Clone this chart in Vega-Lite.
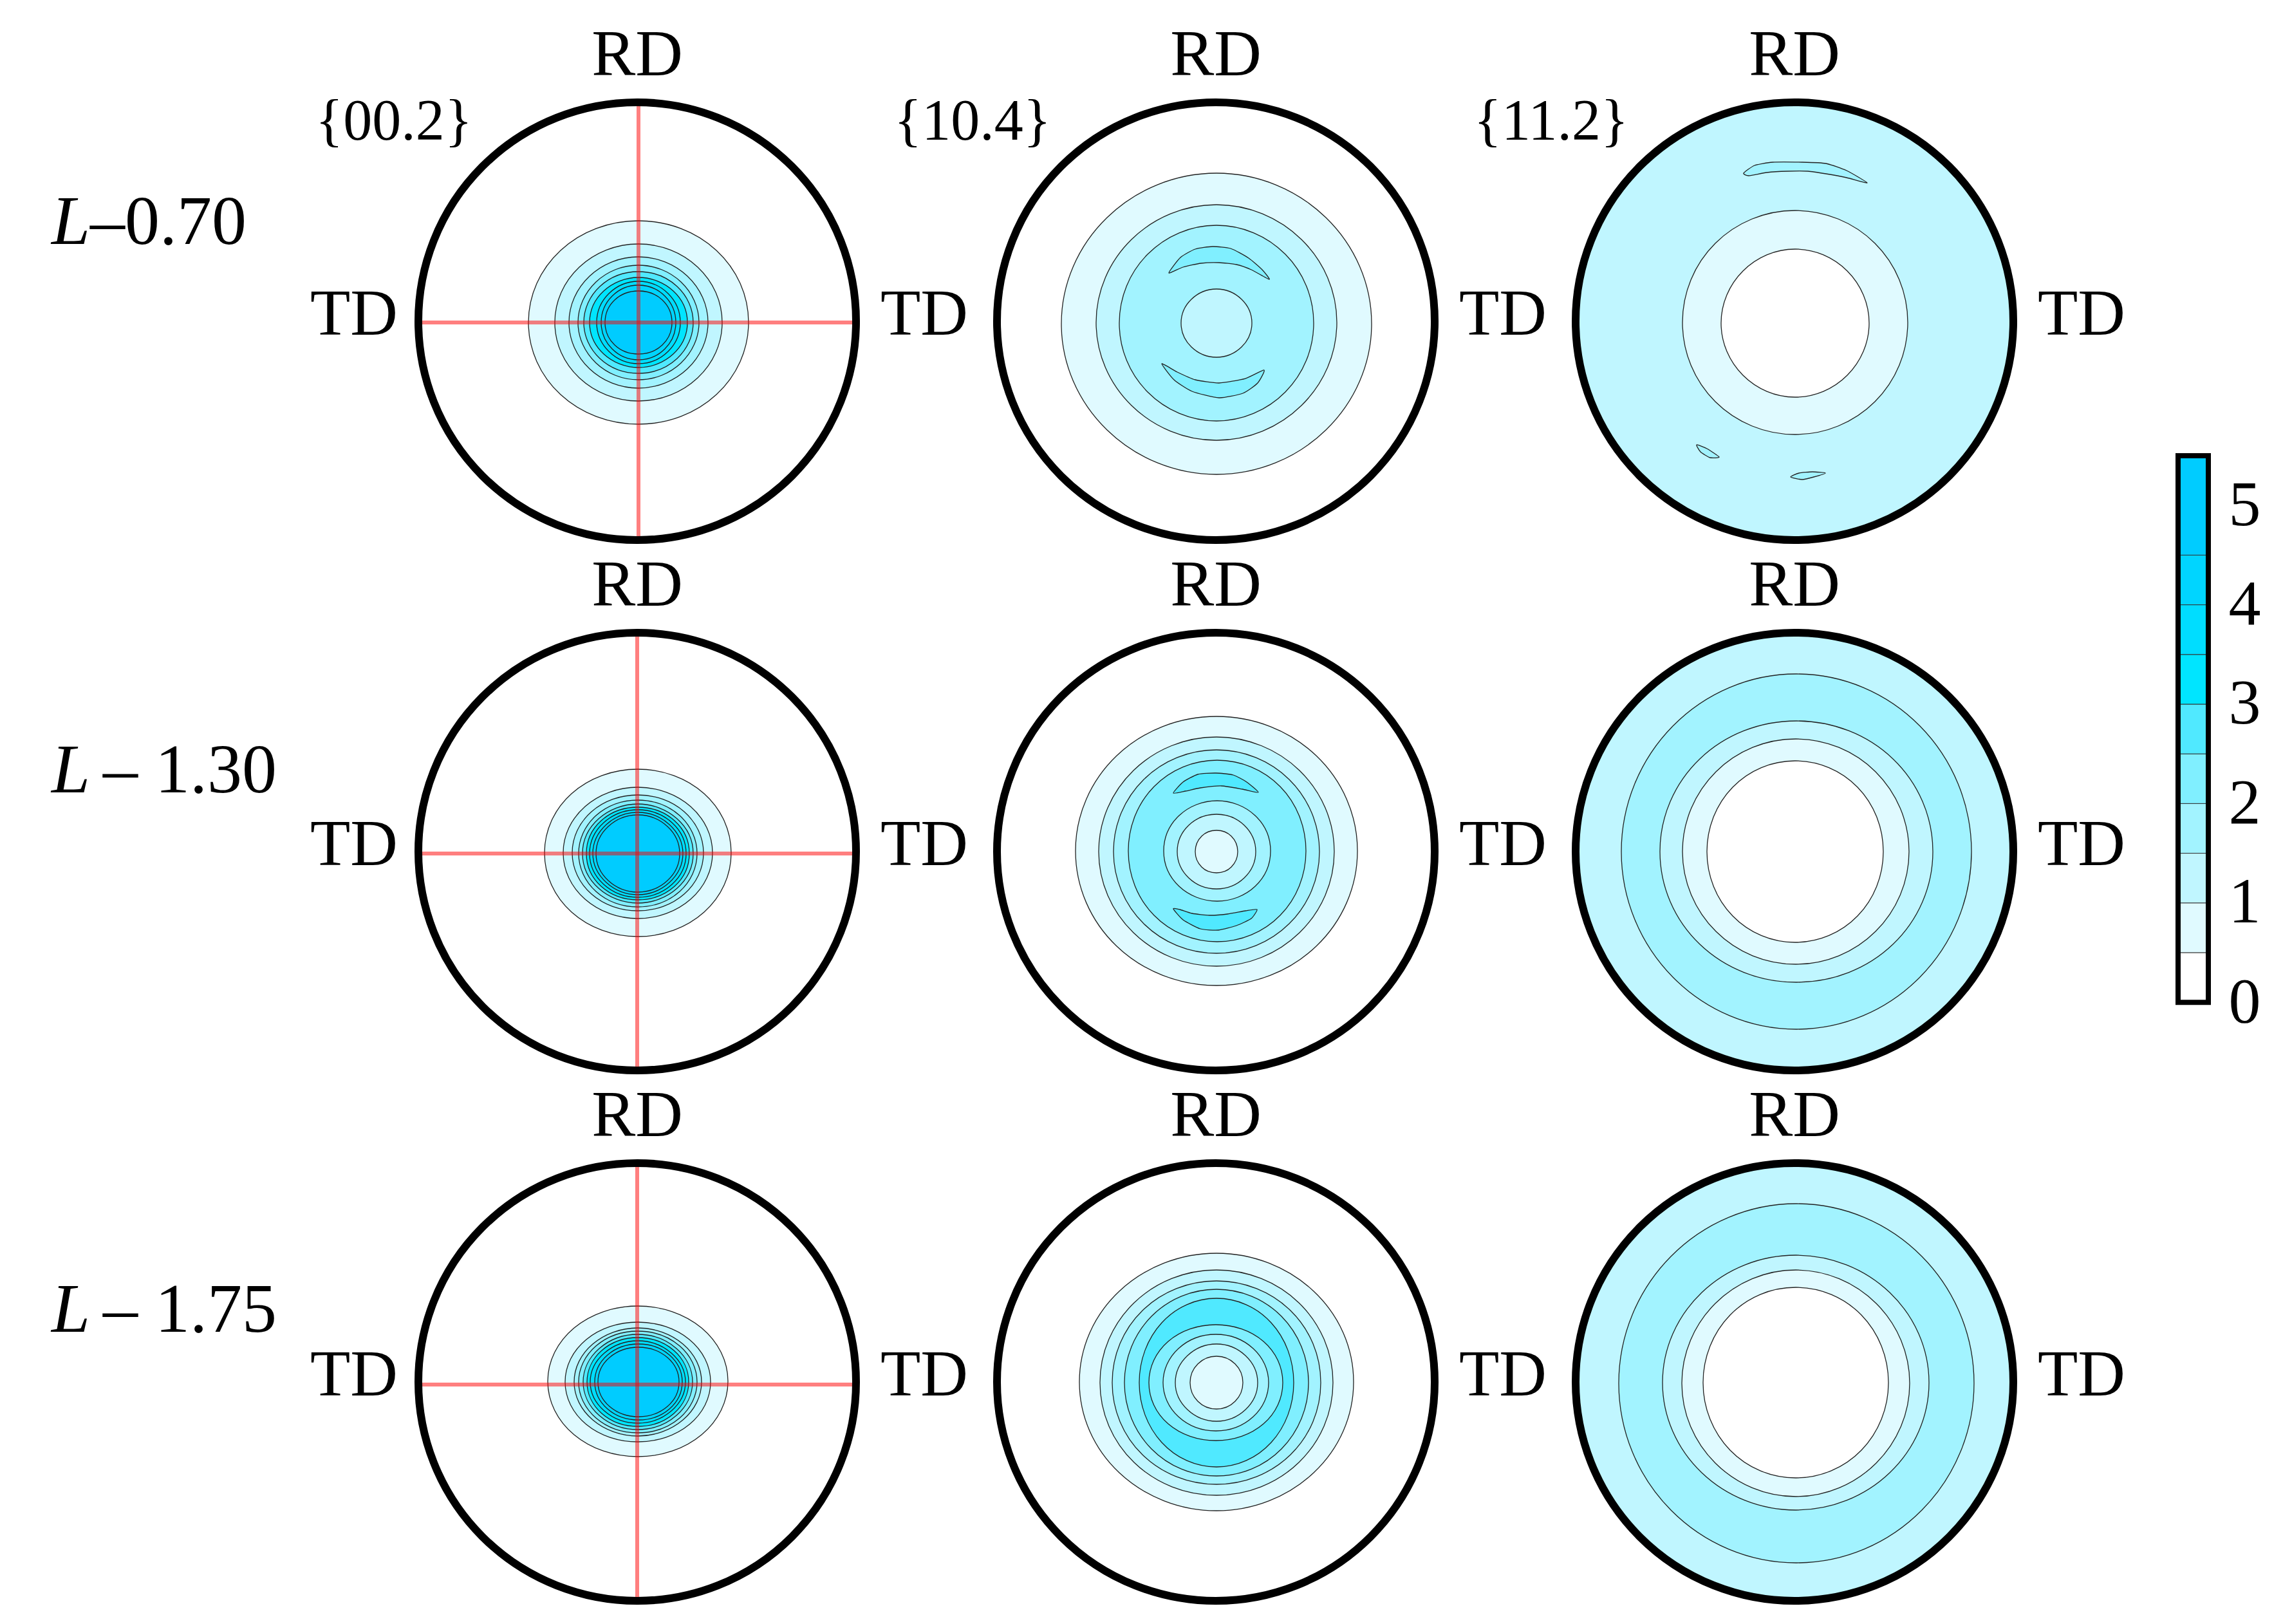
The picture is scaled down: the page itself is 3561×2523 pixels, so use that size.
{"$schema":"https://vega.github.io/schema/vega-lite/v6.json","padding":{"left":80,"top":34,"right":0,"bottom":0},"background":"white","config":{"view":{"stroke":null},"font":"Liberation Serif"},"hconcat":[{"data":{"values":[
{"k":"f","r":"L-0.70","h":"00.2","hkl":"{00.2}","n":"–0.70","ly":152,"nx":-850,"cx":2,"cy":-2},
{"k":"f","r":"L-0.70","h":"10.4","hkl":"{10.4}"},
{"k":"f","r":"L-0.70","h":"11.2","hkl":"{11.2}"},
{"k":"f","r":"L-1.30","h":"00.2","n":"– 1.30","ly":124,"nx":-830,"cx":0,"cy":-3},
{"k":"f","r":"L-1.30","h":"10.4"},
{"k":"f","r":"L-1.30","h":"11.2"},
{"k":"f","r":"L-1.75","h":"00.2","n":"– 1.75","ly":110,"nx":-830,"cx":0,"cy":-4},
{"k":"f","r":"L-1.75","h":"10.4"},
{"k":"f","r":"L-1.75","h":"11.2"},
{"k":"e","r":"L-0.70","h":"00.2","c":1,"lev":1,"xs":[173,123,2,-119,-169,-119,2,123],"ys":[-2,110,156,110,-2,-114,-160,-114]},
{"k":"e","r":"L-0.70","h":"00.2","c":2,"lev":2,"xs":[132,94,2,-90,-128,-90,2,94],"ys":[-2,84,120,84,-2,-88,-124,-88]},
{"k":"e","r":"L-0.70","h":"00.2","c":3,"lev":3,"xs":[110,78,2,-74,-106,-74,2,78],"ys":[-2,70,100,70,-2,-74,-104,-74]},
{"k":"e","r":"L-0.70","h":"00.2","c":4,"lev":4,"xs":[96,68,2,-64,-92,-64,2,68],"ys":[-2,61,87,61,-2,-65,-91,-65]},
{"k":"e","r":"L-0.70","h":"00.2","c":5,"lev":5,"xs":[87,62,2,-58,-83,-58,2,62],"ys":[-2,54,77,54,-2,-58,-81,-58]},
{"k":"e","r":"L-0.70","h":"00.2","c":6,"lev":6,"xs":[78,56,2,-52,-74,-52,2,56],"ys":[-2,47,68,47,-2,-51,-72,-51]},
{"k":"e","r":"L-0.70","h":"00.2","c":7,"lev":7,"xs":[67,48,2,-44,-63,-44,2,48],"ys":[-2,43,62,43,-2,-47,-66,-47]},
{"k":"e","r":"L-0.70","h":"00.2","c":8,"lev":8,"xs":[60,43,2,-39,-56,-39,2,43],"ys":[-2,39,56,39,-2,-43,-60,-43]},
{"k":"e","r":"L-0.70","h":"00.2","c":9,"lev":9,"xs":[54,39,2,-35,-50,-35,2,39],"ys":[-2,33,47,33,-2,-37,-51,-37]},
{"k":"e","r":"L-0.70","h":"10.4","c":1,"lev":1,"xs":[242,171,1,-169,-240,-169,1,171],"ys":[-4,161,230,161,-4,-169,-238,-169]},
{"k":"e","r":"L-0.70","h":"10.4","c":2,"lev":2,"xs":[188,133,1,-131,-186,-131,1,133],"ys":[-2,127,181,127,-2,-131,-185,-131]},
{"k":"e","r":"L-0.70","h":"10.4","c":3,"lev":3,"xs":[152,108,1,-106,-150,-106,1,108],"ys":[-3,104,149,104,-3,-110,-155,-110]},
{"k":"e","r":"L-0.70","h":"10.4","c":4,"lev":2,"xs":[56,40,1,-38,-54,-38,1,40],"ys":[-3,34,50,34,-3,-40,-56,-40]},
{"k":"e","r":"L-0.70","h":"11.2","c":1,"lev":2,"xs":[340,240,0,-240,-340,-240,0,240],"ys":[0,240,340,240,0,-240,-340,-240]},
{"k":"e","r":"L-0.70","h":"11.2","c":2,"lev":1,"xs":[176,125,1,-123,-174,-123,1,125],"ys":[-2,121,172,121,-2,-125,-176,-125]},
{"k":"e","r":"L-0.70","h":"11.2","c":3,"lev":0,"xs":[116,82,1,-80,-114,-80,1,82],"ys":[-3,78,112,78,-3,-84,-118,-84]},
{"k":"e","r":"L-1.30","h":"00.2","c":1,"lev":1,"xs":[146,104,1,-102,-144,-102,1,104],"ys":[-2,90,128,90,-2,-94,-132,-94]},
{"k":"e","r":"L-1.30","h":"00.2","c":2,"lev":2,"xs":[117,83,1,-81,-115,-81,1,83],"ys":[-2,70,100,70,-2,-74,-104,-74]},
{"k":"e","r":"L-1.30","h":"00.2","c":3,"lev":3,"xs":[103,73,1,-71,-101,-71,1,73],"ys":[-2,62,88,62,-2,-66,-92,-66]},
{"k":"e","r":"L-1.30","h":"00.2","c":4,"lev":4,"xs":[93,66,1,-64,-91,-64,1,66],"ys":[-3,56,80,56,-3,-62,-86,-62]},
{"k":"e","r":"L-1.30","h":"00.2","c":5,"lev":5,"xs":[87,62,1,-60,-85,-60,1,62],"ys":[-3,51,74,51,-3,-57,-80,-57]},
{"k":"e","r":"L-1.30","h":"00.2","c":6,"lev":6,"xs":[81,58,1,-56,-79,-56,1,58],"ys":[-3,48,69,48,-3,-54,-75,-54]},
{"k":"e","r":"L-1.30","h":"00.2","c":7,"lev":7,"xs":[76,54,1,-52,-74,-52,1,54],"ys":[-3,45,65,45,-3,-51,-71,-51]},
{"k":"e","r":"L-1.30","h":"00.2","c":8,"lev":8,"xs":[71,50,1,-48,-69,-48,1,50],"ys":[-3,42,61,42,-3,-48,-67,-48]},
{"k":"e","r":"L-1.30","h":"00.2","c":9,"lev":9,"xs":[66,47,1,-45,-64,-45,1,47],"ys":[-3,39,57,39,-3,-45,-63,-45]},
{"k":"e","r":"L-1.30","h":"10.4","c":1,"lev":1,"xs":[220,156,1,-154,-218,-154,1,156],"ys":[1,149,210,149,1,-147,-208,-147]},
{"k":"e","r":"L-1.30","h":"10.4","c":2,"lev":2,"xs":[184,130,1,-128,-182,-128,1,130],"ys":[0,126,178,126,0,-126,-178,-126]},
{"k":"e","r":"L-1.30","h":"10.4","c":3,"lev":3,"xs":[161,114,1,-112,-159,-112,1,114],"ys":[0,112,158,112,0,-112,-158,-112]},
{"k":"e","r":"L-1.30","h":"10.4","c":4,"lev":4,"xs":[140,100,2,-96,-136,-96,2,100],"ys":[1,101,142,101,1,-99,-140,-99]},
{"k":"e","r":"L-1.30","h":"10.4","c":5,"lev":3,"xs":[85,61,2,-57,-81,-57,2,61],"ys":[1,56,79,56,1,-54,-77,-54]},
{"k":"e","r":"L-1.30","h":"10.4","c":6,"lev":2,"xs":[62,44,1,-42,-60,-42,1,44],"ys":[0,41,58,41,0,-41,-58,-41]},
{"k":"e","r":"L-1.30","h":"10.4","c":7,"lev":1,"xs":[34,24,1,-22,-32,-22,1,24],"ys":[0,24,33,24,0,-24,-33,-24]},
{"k":"e","r":"L-1.30","h":"11.2","c":1,"lev":2,"xs":[340,240,0,-240,-340,-240,0,240],"ys":[0,240,340,240,0,-240,-340,-240]},
{"k":"e","r":"L-1.30","h":"11.2","c":2,"lev":3,"xs":[275,195,3,-189,-269,-189,3,195],"ys":[0,195,276,195,0,-195,-276,-195]},
{"k":"e","r":"L-1.30","h":"11.2","c":3,"lev":2,"xs":[215,153,3,-147,-209,-147,3,153],"ys":[0,144,203,144,0,-144,-203,-144]},
{"k":"e","r":"L-1.30","h":"11.2","c":4,"lev":1,"xs":[178,126,2,-122,-174,-122,2,126],"ys":[0,124,175,124,0,-124,-175,-124]},
{"k":"e","r":"L-1.30","h":"11.2","c":5,"lev":0,"xs":[138,98,1,-96,-136,-96,1,98],"ys":[0,100,141,100,0,-100,-141,-100]},
{"k":"e","r":"L-1.75","h":"00.2","c":1,"lev":1,"xs":[141,100,1,-98,-139,-98,1,100],"ys":[1,84,118,84,1,-82,-116,-82]},
{"k":"e","r":"L-1.75","h":"00.2","c":2,"lev":2,"xs":[114,81,1,-79,-112,-79,1,81],"ys":[0,66,93,66,0,-66,-93,-66]},
{"k":"e","r":"L-1.75","h":"00.2","c":3,"lev":3,"xs":[100,71,1,-69,-98,-69,1,71],"ys":[0,59,84,59,0,-59,-84,-59]},
{"k":"e","r":"L-1.75","h":"00.2","c":4,"lev":4,"xs":[93,66,1,-64,-91,-64,1,66],"ys":[0,56,79,56,0,-56,-79,-56]},
{"k":"e","r":"L-1.75","h":"00.2","c":5,"lev":5,"xs":[86,61,1,-59,-84,-59,1,61],"ys":[0,52,74,52,0,-52,-74,-52]},
{"k":"e","r":"L-1.75","h":"00.2","c":6,"lev":6,"xs":[80,57,1,-55,-78,-55,1,57],"ys":[0,49,69,49,0,-49,-69,-49]},
{"k":"e","r":"L-1.75","h":"00.2","c":7,"lev":7,"xs":[75,53,1,-51,-73,-51,1,53],"ys":[0,45,64,45,0,-45,-64,-45]},
{"k":"e","r":"L-1.75","h":"00.2","c":8,"lev":8,"xs":[70,50,2,-46,-66,-46,2,50],"ys":[0,42,59,42,0,-42,-59,-42]},
{"k":"e","r":"L-1.75","h":"00.2","c":9,"lev":9,"xs":[65,47,2,-43,-61,-43,2,47],"ys":[0,38,54,38,0,-38,-54,-38]},
{"k":"e","r":"L-1.75","h":"10.4","c":1,"lev":1,"xs":[214,152,1,-150,-212,-150,1,152],"ys":[0,141,200,141,0,-141,-200,-141]},
{"k":"e","r":"L-1.75","h":"10.4","c":2,"lev":2,"xs":[182,129,1,-127,-180,-127,1,129],"ys":[-1,123,174,123,-1,-125,-176,-125]},
{"k":"e","r":"L-1.75","h":"10.4","c":3,"lev":3,"xs":[163,116,1,-114,-161,-114,1,116],"ys":[-1,111,157,111,-1,-113,-159,-113]},
{"k":"e","r":"L-1.75","h":"10.4","c":4,"lev":4,"xs":[144,102,1,-100,-142,-100,1,102],"ys":[-1,102,144,102,-1,-104,-146,-104]},
{"k":"e","r":"L-1.75","h":"10.4","c":5,"lev":5,"xs":[121,86,1,-84,-119,-84,1,86],"ys":[-1,92,130,92,-1,-94,-132,-94]},
{"k":"e","r":"L-1.75","h":"10.4","c":6,"lev":4,"xs":[104,74,0,-74,-104,-74,0,74],"ys":[-1,63,89,63,-1,-65,-91,-65]},
{"k":"e","r":"L-1.75","h":"10.4","c":7,"lev":3,"xs":[82,58,0,-58,-82,-58,0,58],"ys":[-1,52,74,52,-1,-54,-76,-54]},
{"k":"e","r":"L-1.75","h":"10.4","c":8,"lev":2,"xs":[65,46,1,-44,-63,-44,1,46],"ys":[-1,41,59,41,-1,-43,-61,-43]},
{"k":"e","r":"L-1.75","h":"10.4","c":9,"lev":1,"xs":[42,30,1,-28,-40,-28,1,30],"ys":[-1,28,40,28,-1,-30,-42,-30]},
{"k":"e","r":"L-1.75","h":"11.2","c":1,"lev":2,"xs":[340,240,0,-240,-340,-240,0,240],"ys":[0,240,340,240,0,-240,-340,-240]},
{"k":"e","r":"L-1.75","h":"11.2","c":2,"lev":3,"xs":[279,198,3,-192,-273,-192,3,198],"ys":[-2,195,277,195,-2,-199,-281,-199]},
{"k":"e","r":"L-1.75","h":"11.2","c":3,"lev":2,"xs":[209,148,2,-144,-205,-144,2,148],"ys":[-1,139,197,139,-1,-141,-199,-141]},
{"k":"e","r":"L-1.75","h":"11.2","c":4,"lev":1,"xs":[179,127,2,-123,-175,-123,2,127],"ys":[-2,122,174,122,-2,-126,-178,-126]},
{"k":"e","r":"L-1.75","h":"11.2","c":5,"lev":0,"xs":[146,104,2,-100,-142,-100,2,104],"ys":[-1,104,147,104,-1,-106,-149,-106]},
{"k":"s","r":"L-0.70","h":"10.4","c":11,"lev":4,"xs":[-73,-55,-32,-5,23,51,72,83,55,32,5,-23,-51],"ys":[75,99,112,116,113,98,80,65,80,88,91,90,84]},
{"k":"s","r":"L-0.70","h":"10.4","c":12,"lev":4,"xs":[-84,-65,-37,5,42,65,75,46,5,-32,-60],"ys":[-66,-91,-109,-119,-112,-96,-76,-89,-96,-91,-79]},
{"k":"s","r":"L-0.70","h":"11.2","c":11,"lev":3,"xs":[-79,-62,-34,12,49,81,113,81,49,21,-11,-43,-71],"ys":[230,242,247,247,245,234,215,223,229,233,233,231,226]},
{"k":"s","r":"L-0.70","h":"11.2","c":12,"lev":3,"xs":[-152,-136,-117,-131,-146],"ys":[-192,-198,-211,-212,-203]},
{"k":"s","r":"L-0.70","h":"11.2","c":13,"lev":3,"xs":[-6,7,28,48,30,12],"ys":[-242,-236,-234,-236,-242,-246]},
{"k":"s","r":"L-1.30","h":"10.4","c":11,"lev":5,"xs":[-66,-51,-28,0,27,48,66,41,9,-24,-47],"ys":[91,108,120,122,119,108,92,97,102,99,94]},
{"k":"s","r":"L-1.30","h":"10.4","c":12,"lev":5,"xs":[-66,-51,-24,4,32,55,64,46,18,-10,-37,-56],"ys":[-89,-106,-120,-122,-115,-104,-90,-92,-97,-99,-96,-90]}
]},"facet":{"row":{"field":"r","type":"nominal","header":null},"column":{"field":"h","type":"nominal","header":null}},"spacing":{"row":144,"column":219},"bounds":"flush","spec":{"width":680,"height":680,"layer":[
{"transform":[{"filter":"datum.k=='e'"},{"flatten":["xs","ys"],"as":["x","y"]},{"window":[{"op":"row_number","as":"i"}],"groupby":["r","h","c"]}],"mark":{"type":"line","interpolate":"cardinal-closed","tension":-0.125,"stroke":"#222222","strokeWidth":1.3},"encoding":{"x":{"field":"x","type":"quantitative","scale":{"domain":[-340,340],"nice":false,"zero":false},"axis":null},"y":{"field":"y","type":"quantitative","scale":{"domain":[-340,340],"nice":false,"zero":false},"axis":null},"detail":{"field":"c"},"order":{"field":"i","type":"quantitative"},"fill":{"field":"lev","type":"ordinal","scale":{"domain":[0,1,2,3,4,5,6,7,8,9],"range":["#FFFFFF","#E0FAFF","#C0F6FF","#A2F3FF","#80EFFF","#50E9FF","#00E5FF","#00DDFF","#00D5FF","#00CCFF"]},"legend":null}}},
{"transform":[{"filter":"datum.k=='s'"},{"flatten":["xs","ys"],"as":["x","y"]},{"window":[{"op":"row_number","as":"i"}],"groupby":["r","h","c"]}],"mark":{"type":"line","interpolate":"cardinal-closed","tension":0.4,"stroke":"#222222","strokeWidth":1.3},"encoding":{"x":{"field":"x","type":"quantitative","scale":{"domain":[-340,340],"nice":false,"zero":false},"axis":null},"y":{"field":"y","type":"quantitative","scale":{"domain":[-340,340],"nice":false,"zero":false},"axis":null},"detail":{"field":"c"},"order":{"field":"i","type":"quantitative"},"fill":{"field":"lev","type":"ordinal","scale":{"domain":[0,1,2,3,4,5,6,7,8,9],"range":["#FFFFFF","#E0FAFF","#C0F6FF","#A2F3FF","#80EFFF","#50E9FF","#00E5FF","#00DDFF","#00D5FF","#00CCFF"]},"legend":null}}},
{"transform":[{"filter":"datum.k=='f'&&datum.h=='00.2'"}],"mark":{"type":"rule","color":"#FF0000","opacity":0.5,"strokeWidth":6},"encoding":{"x":{"field":"cx","type":"quantitative","scale":{"domain":[-340,340],"nice":false,"zero":false},"axis":null},"y":{"datum":-340,"type":"quantitative","scale":{"domain":[-340,340],"nice":false,"zero":false},"axis":null},"y2":{"datum":340}}},
{"transform":[{"filter":"datum.k=='f'&&datum.h=='00.2'"}],"mark":{"type":"rule","color":"#FF0000","opacity":0.5,"strokeWidth":6},"encoding":{"y":{"field":"cy","type":"quantitative","scale":{"domain":[-340,340],"nice":false,"zero":false},"axis":null},"x":{"datum":-340,"type":"quantitative","scale":{"domain":[-340,340],"nice":false,"zero":false},"axis":null},"x2":{"datum":340}}},
{"transform":[{"filter":"datum.k=='f'"}],"mark":{"type":"point","filled":false,"fill":null,"stroke":"#000000","strokeWidth":12,"opacity":1,"size":462400},"encoding":{"x":{"datum":0,"type":"quantitative","scale":{"domain":[-340,340],"nice":false,"zero":false},"axis":null},"y":{"datum":0,"type":"quantitative","scale":{"domain":[-340,340],"nice":false,"zero":false},"axis":null}}},
{"transform":[{"filter":"datum.k=='f'"}],"mark":{"type":"text","fontSize":102,"baseline":"middle"},"encoding":{"text":{"value":"RD"},"x":{"datum":0,"type":"quantitative","scale":{"domain":[-340,340],"nice":false,"zero":false},"axis":null},"y":{"datum":413,"type":"quantitative","scale":{"domain":[-340,340],"nice":false,"zero":false},"axis":null}}},
{"transform":[{"filter":"datum.k=='f'"}],"mark":{"type":"text","fontSize":102,"baseline":"middle"},"encoding":{"text":{"value":"TD"},"x":{"datum":446,"type":"quantitative","scale":{"domain":[-340,340],"nice":false,"zero":false},"axis":null},"y":{"datum":10,"type":"quantitative","scale":{"domain":[-340,340],"nice":false,"zero":false},"axis":null}}},
{"transform":[{"filter":"datum.k=='f'&&datum.h=='00.2'"}],"mark":{"type":"text","fontSize":102,"baseline":"middle"},"encoding":{"text":{"value":"TD"},"x":{"datum":-440,"type":"quantitative","scale":{"domain":[-340,340],"nice":false,"zero":false},"axis":null},"y":{"datum":10,"type":"quantitative","scale":{"domain":[-340,340],"nice":false,"zero":false},"axis":null}}},
{"transform":[{"filter":"datum.k=='f'&&datum.r=='L-0.70'"}],"mark":{"type":"text","fontSize":90,"baseline":"middle"},"encoding":{"text":{"field":"hkl"},"x":{"datum":-378,"type":"quantitative","scale":{"domain":[-340,340],"nice":false,"zero":false},"axis":null},"y":{"datum":309,"type":"quantitative","scale":{"domain":[-340,340],"nice":false,"zero":false},"axis":null}}},
{"transform":[{"filter":"datum.k=='f'&&datum.h=='00.2'"}],"mark":{"type":"text","fontSize":108,"baseline":"middle","align":"left","fontStyle":"italic"},"encoding":{"text":{"value":"L"},"x":{"datum":-910,"type":"quantitative","scale":{"domain":[-340,340],"nice":false,"zero":false},"axis":null},"y":{"field":"ly","type":"quantitative","scale":{"domain":[-340,340],"nice":false,"zero":false},"axis":null}}},
{"transform":[{"filter":"datum.k=='f'&&datum.h=='00.2'"}],"mark":{"type":"text","fontSize":108,"baseline":"middle","align":"left"},"encoding":{"text":{"field":"n"},"x":{"field":"nx","type":"quantitative","scale":{"domain":[-340,340],"nice":false,"zero":false},"axis":null},"y":{"field":"ly","type":"quantitative","scale":{"domain":[-340,340],"nice":false,"zero":false},"axis":null}}}
]}},
{"width":47,"height":2328,"data":{"values":[
{"lev":0,"lo":0,"hi":0.5},{"lev":1,"lo":0.5,"hi":1},{"lev":2,"lo":1,"hi":1.5},{"lev":3,"lo":1.5,"hi":2},{"lev":4,"lo":2,"hi":2.5},{"lev":5,"lo":2.5,"hi":3},{"lev":6,"lo":3,"hi":3.5},{"lev":7,"lo":3.5,"hi":4},{"lev":8,"lo":4,"hi":4.5},{"lev":9,"lo":4.5,"hi":5.5}
]},"layer":[
{"mark":{"type":"rect","stroke":"#333333","strokeWidth":1},"encoding":{"x":{"datum":0,"type":"quantitative","scale":{"domain":[0,1],"nice":false},"axis":null},"x2":{"datum":1},"y":{"field":"lo","type":"quantitative","scale":{"domain":[-6.023,9.056],"nice":false,"zero":false},"axis":{"orient":"right","values":[0,1,2,3,4,5],"format":"d","title":null,"domain":false,"ticks":false,"grid":false,"labelFontSize":100,"labelColor":"#000000","labelPadding":31,"labelFont":"Liberation Serif"}},"y2":{"field":"hi"},"fill":{"field":"lev","type":"ordinal","scale":{"domain":[0,1,2,3,4,5,6,7,8,9],"range":["#FFFFFF","#E0FAFF","#C0F6FF","#A2F3FF","#80EFFF","#50E9FF","#00E5FF","#00DDFF","#00D5FF","#00CCFF"]},"legend":null}}},
{"transform":[{"aggregate":[{"op":"min","field":"lo","as":"a"},{"op":"max","field":"hi","as":"b"}]}],"mark":{"type":"rect","fill":null,"filled":false,"stroke":"#000000","strokeWidth":8},"encoding":{"x":{"datum":0,"type":"quantitative","scale":{"domain":[0,1],"nice":false},"axis":null},"x2":{"datum":1},"y":{"field":"a","type":"quantitative","scale":{"domain":[-6.023,9.056],"nice":false,"zero":false}},"y2":{"field":"b"}}}
]}],"spacing":2734,"bounds":"flush"}
